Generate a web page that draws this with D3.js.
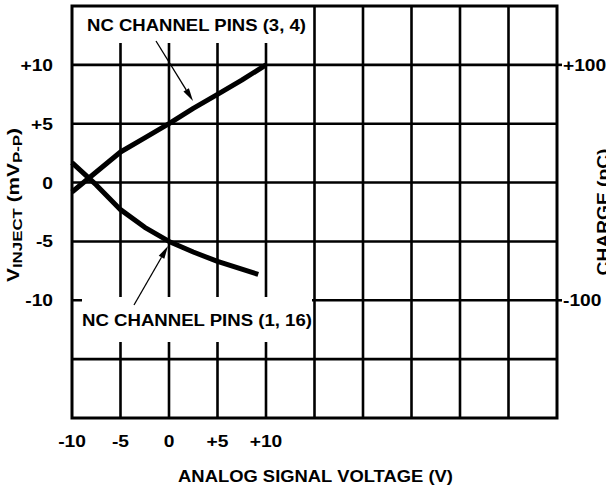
<!DOCTYPE html>
<html>
<head>
<meta charset="utf-8">
<script src="https://cdn.jsdelivr.net/npm/d3@7"></script>
<style>
  body { margin: 0; background: #fff; }
  svg text { font-family: "Liberation Sans", Arial, Helvetica, sans-serif; font-weight: bold; fill: #000; }
</style>
</head>
<body>
<svg id="chart" width="606" height="491"></svg>
<script>
// ## data
var xTicks = [-10, -5, 0, 5, 10];
var xTickLabels = ['-10', '-5', '0', '+5', '+10'];
var yTicks = [10, 5, 0, -5, -10];
var yTickLabels = ['+10', '+5', '0', '-5', '-10'];
var chargeTicks = [100, -100];
var chargeTickLabels = ['+100', '-100'];

var pins34_v = [-10, -7.5, -5, -2.5, 0, 2.5, 5, 7.5, 10];
var pins34_mv = [-0.8, 0.9, 2.6, 3.8, 5.0, 6.3, 7.5, 8.7, 10.0];
var pins116_v = [-10, -7.5, -5, -2.5, 0, 2.5, 5, 9.2];
var pins116_mv = [1.7, -0.2, -2.3, -3.8, -5.0, -5.9, -6.7, -7.8];

var svg = d3.select('#chart');
var plotL = 72, plotR = 557, plotT = 6, plotB = 418;

var x = d3.scaleLinear().domain([-10, 40]).range([plotL, plotR]);
var y = d3.scaleLinear().domain([-20, 15]).range([plotB, plotT]);
var yCharge = d3.scaleLinear().domain([-200, 150]).range([plotB, plotT]);

//## stretched text helper (the original type is wider than Arial)
function label(px, py, str, anchor, size, sx, rot) {
    var g = svg.append('g')
        .attr('data-base', 'translate(' + px + ',' + py + ')' + (rot ? ' rotate(' + rot + ')' : ''));
    g.attr('transform', g.attr('data-base') + ' scale(' + sx + ',1)');
    return g.append('text')
        .attr('text-anchor', anchor)
        .style('font-size', size + 'px')
        .text(str);
}
function fitWidth(t, w) {
    var g = d3.select(t.node().parentNode);
    var len = t.node().getComputedTextLength();
    g.attr('transform', g.attr('data-base') + ' scale(' + (w / len) + ',1)');
}

//## grid
var gridX = d3.range(-5, 40, 5);
var gridY = d3.range(-15, 15, 5);
svg.append('g').selectAll('line').data(gridX).enter().append('line')
    .attr('x1', function(d) { return x(d); }).attr('x2', function(d) { return x(d); })
    .attr('y1', plotT).attr('y2', plotB)
    .attr('stroke', '#000').attr('stroke-width', 2.6);
svg.append('g').selectAll('line').data(gridY).enter().append('line')
    .attr('x1', plotL).attr('x2', plotR)
    .attr('y1', function(d) { return y(d); }).attr('y2', function(d) { return y(d); })
    .attr('stroke', '#000').attr('stroke-width', 2.6);

// right axis tick stubs
svg.append('g').selectAll('line').data(chargeTicks).enter().append('line')
    .attr('x1', plotR).attr('x2', plotR + 5)
    .attr('y1', function(d) { return yCharge(d); }).attr('y2', function(d) { return yCharge(d); })
    .attr('stroke', '#000').attr('stroke-width', 2.6);

//## white label boxes over the grid
svg.append('rect').attr('x', plotL + 1).attr('y', plotT + 1).attr('width', 240).attr('height', 36).attr('fill', '#fff');
svg.append('rect').attr('x', 82).attr('y', 297).attr('width', 230).attr('height', 45).attr('fill', '#fff');

//## frame
svg.append('rect').attr('x', plotL).attr('y', plotT).attr('width', plotR - plotL).attr('height', plotB - plotT)
    .attr('fill', 'none').attr('stroke', '#000').attr('stroke-width', 3);

//## curves
var line = d3.line().x(function(d) { return x(d[0]); }).y(function(d) { return y(d[1]); });
var series = [d3.zip(pins34_v, pins34_mv), d3.zip(pins116_v, pins116_mv)];
svg.append('g').selectAll('path').data(series).enter().append('path')
    .attr('d', line)
    .attr('fill', 'none').attr('stroke', '#000').attr('stroke-width', 5)
    .attr('stroke-linejoin', 'round');

//## arrows
function arrow(x1, y1, x2, y2) {
    var a = Math.atan2(y2 - y1, x2 - x1), L = 13, W = 3.2;
    var bx = x2 - L * Math.cos(a), by = y2 - L * Math.sin(a);
    svg.append('line').attr('x1', x1).attr('y1', y1).attr('x2', bx).attr('y2', by)
        .attr('stroke', '#000').attr('stroke-width', 1.3);
    var pts = [[x2, y2],
        [bx + W * Math.sin(a), by - W * Math.cos(a)],
        [bx - W * Math.sin(a), by + W * Math.cos(a)]];
    svg.append('polygon').attr('points', pts.map(function(p) { return p.join(','); }).join(' ')).attr('fill', '#000');
}
arrow(156, 41, 193, 101);
arrow(134, 305, 168, 246);

//## tick labels
yTicks.forEach(function(d, i) { label(53, y(d) + 6, yTickLabels[i], 'end', 16, 1.2); });
xTicks.forEach(function(d, i) { label(x(d), 447, xTickLabels[i], 'middle', 16, 1.2); });
chargeTicks.forEach(function(d, i) { label(563, yCharge(d) + 6, chargeTickLabels[i], 'start', 16, 1.2); });

//## annotations and titles
fitWidth(label(196.5, 31, 'NC CHANNEL PINS (3, 4)', 'middle', 16, 1), 219);
fitWidth(label(197, 326, 'NC CHANNEL PINS (1, 16)', 'middle', 16, 1), 230);
fitWidth(label(315.5, 482, 'ANALOG SIGNAL VOLTAGE (V)', 'middle', 16.5, 1), 275);

var yl = label(19, 205, '', 'middle', 16, 1, -90);
yl.append('tspan').text('V');
yl.append('tspan').attr('dy', 3).style('font-size', '13px').text('INJECT');
yl.append('tspan').attr('dy', -3).text(' (mV');
yl.append('tspan').attr('dy', 3).style('font-size', '13px').text('P-P');
yl.append('tspan').attr('dy', -3).text(')');
fitWidth(yl, 154);

label(609, 212, 'CHARGE (pC)', 'middle', 16, 1.2, -90);
</script>
</body>
</html>
